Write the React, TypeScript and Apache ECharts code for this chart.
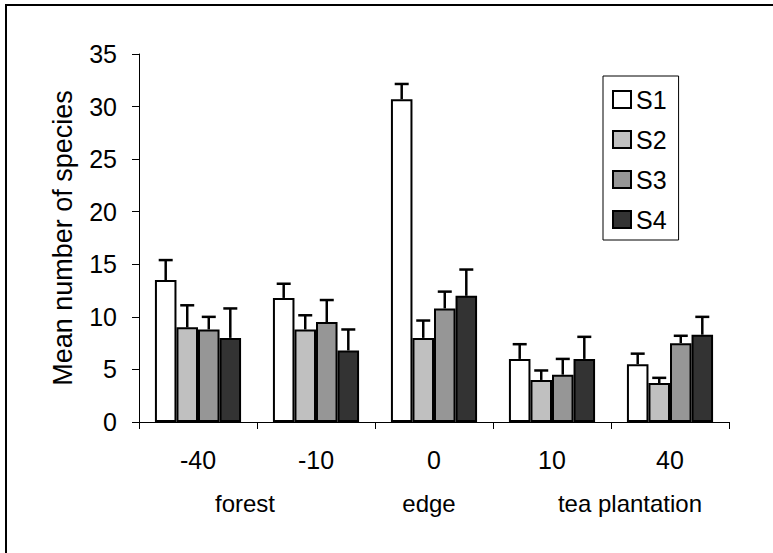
import React, { useEffect, useRef } from "react";
import * as echarts from "echarts";

const categories = ["-40", "-10", "0", "10", "40"];
const seriesNames = ["S1", "S2", "S3", "S4"];
const s1 = [13.5, 11.8, 30.7, 6.0, 5.5];
const s2 = [9.0, 8.8, 8.0, 4.0, 3.7];
const s3 = [8.8, 9.5, 10.8, 4.5, 7.5];
const s4 = [8.0, 6.8, 12.0, 6.0, 8.3];
const e1 = [1.9, 1.35, 1.45, 1.4, 1.0];
const e2 = [2.1, 1.35, 1.65, 0.9, 0.5];
const e3 = [1.2, 2.1, 1.6, 1.5, 0.7];
const e4 = [2.8, 2.0, 2.5, 2.1, 1.7];
const yTicks = { min: 0, max: 35, interval: 5 };
const groupLabels = ["forest", "edge", "tea plantation"];
const yTitle = "Mean number of species";

const colors = ["#ffffff", "#c0c0c0", "#969696", "#333333"];
const FONT = "'Liberation Sans', Arial, sans-serif";
const GAP = 0.27;

export default function App() {
  const ref = useRef<HTMLDivElement>(null);
  useEffect(() => {
    if (!ref.current) return;
    const chart = echarts.init(ref.current, null, { renderer: "svg" });
    const values = [s1, s2, s3, s4];
    const errs = [e1, e2, e3, e4];
    const bars = values.map((vals, i) => ({
      name: seriesNames[i],
      type: "bar",
      data: vals,
      barGap: "0%",
      barCategoryGap: GAP * 100 + "%",
      itemStyle: { color: colors[i], borderColor: "#000", borderWidth: 2 },
      z: 2,
    }));
    const errSeries = values.map((vals, i) => ({
      name: "err" + (i + 1),
      type: "custom",
      data: vals.map((v, k) => [k, v, errs[i][k]]),
      encode: { x: 0, y: 1 },
      z: 3,
      renderItem: (params: any, api: any) => {
        const cat = api.value(0);
        const v = api.value(1);
        const e = api.value(2);
        const band = api.size([1, 0])[0];
        const barW = (band * (1 - GAP)) / 4;
        const off = (i - 1.5) * barW;
        const p0 = api.coord([cat, v]);
        const p1 = api.coord([cat, v + e]);
        const x = p0[0] + off;
        const st = { stroke: "#000", lineWidth: 2.5 };
        return {
          type: "group",
          children: [
            { type: "line", shape: { x1: x, y1: p0[1], x2: x, y2: p1[1] }, style: st },
            { type: "line", shape: { x1: x - 7, y1: p1[1], x2: x + 7, y2: p1[1] }, style: st },
          ],
        };
      },
    }));
    chart.setOption({
      animation: false,
      backgroundColor: "#fff",
      textStyle: { fontFamily: FONT },
      grid: { left: 139, right: 44, top: 54, bottom: 131 },
      legend: {
        data: seriesNames,
        orient: "vertical",
        left: 603,
        top: 76,
        icon: "rect",
        itemWidth: 18,
        itemHeight: 17,
        itemGap: 15,
        padding: [11, 12, 8, 9],
        borderColor: "#000",
        borderWidth: 1,
        textStyle: { fontSize: 25, color: "#000", fontFamily: FONT },
        selectedMode: false,
      },
      xAxis: {
        type: "category",
        data: categories,
        axisLine: { show: true, lineStyle: { color: "#000", width: 1 } },
        axisTick: { show: true, length: 7, alignWithLabel: false, lineStyle: { color: "#000" } },
        axisLabel: { fontSize: 25, color: "#000", margin: 25, fontFamily: FONT },
        splitLine: { show: false },
      },
      yAxis: {
        type: "value",
        min: yTicks.min,
        max: yTicks.max,
        interval: yTicks.interval,
        name: yTitle,
        nameLocation: "middle",
        nameRotate: 90,
        nameGap: 63,
        nameTextStyle: { fontSize: 27, color: "#000", fontFamily: FONT },
        axisLine: { show: true, lineStyle: { color: "#000", width: 1 } },
        axisTick: { show: true, length: 7, lineStyle: { color: "#000" } },
        axisLabel: { fontSize: 25, color: "#000", margin: 22, fontFamily: FONT },
        splitLine: { show: false },
      },
      graphic: [
        {
          type: "rect",
          shape: { x: 6, y: 5, width: 800, height: 600 },
          style: { fill: "none", stroke: "#000", lineWidth: 2 },
          silent: true,
        },
        ...[
          [245, 503],
          [429, 503],
          [630, 503],
        ].map((p, k) => ({
          type: "text",
          x: p[0],
          y: p[1],
          style: {
            text: groupLabels[k],
            fontSize: 24,
            fontFamily: FONT,
            fill: "#000",
            align: "center",
            verticalAlign: "middle",
          },
        })),
      ],
      series: [...bars, ...errSeries],
    });
    return () => chart.dispose();
  }, []);
  return (
    <div
      ref={ref}
      style={{ position: "absolute", left: 0, top: 0, width: 773, height: 553 }}
    />
  );
}
